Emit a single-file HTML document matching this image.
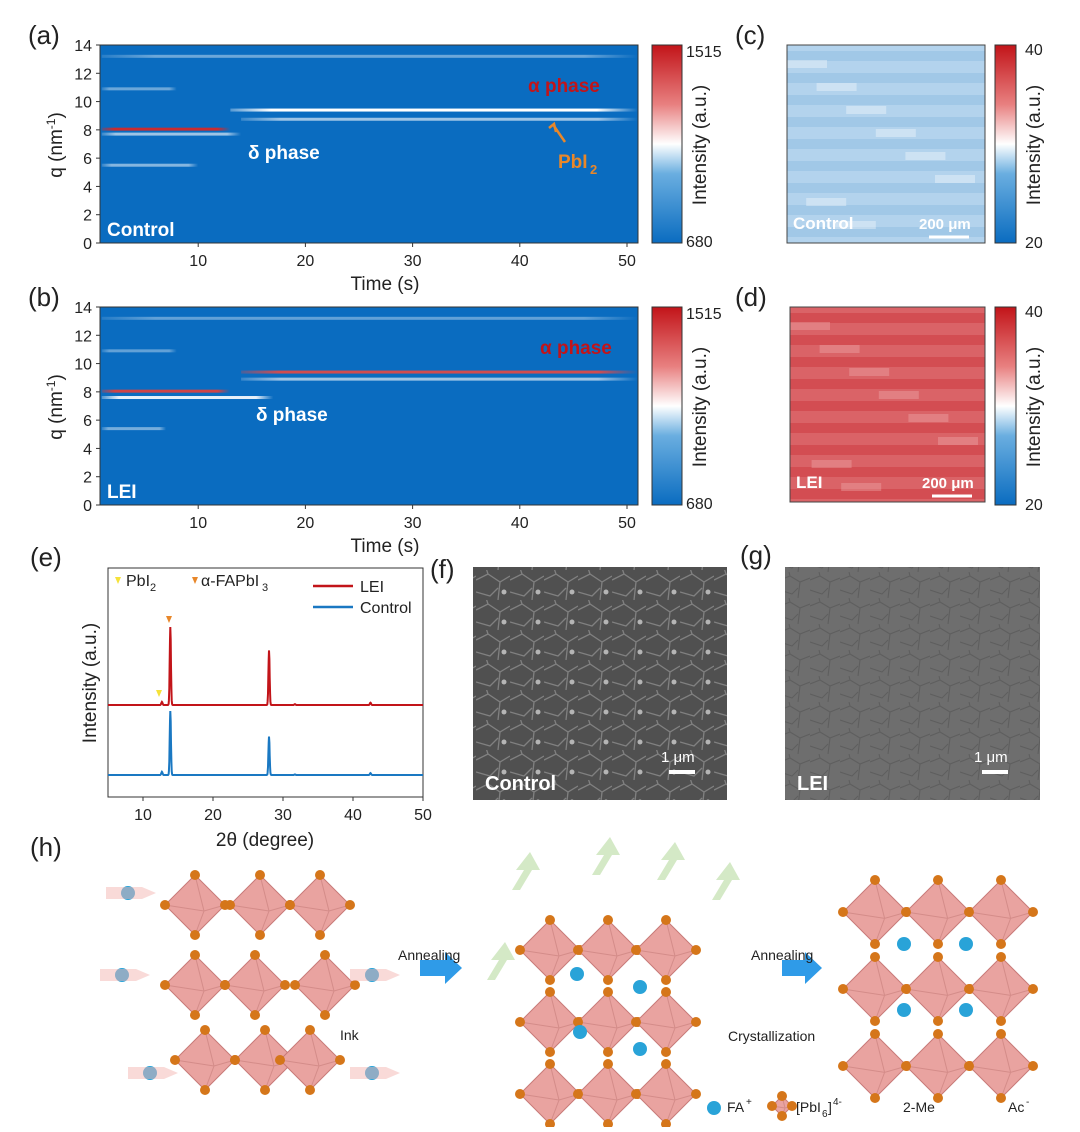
<!DOCTYPE html>
<html><head><meta charset="utf-8">
<style>
body{margin:0;background:#fff;font-family:"Liberation Sans",Arial,sans-serif;}
svg text{font-family:"Liberation Sans",Arial,sans-serif;}
</style></head>
<body>
<svg id="fig" width="1080" height="1127" viewBox="0 0 1080 1127" xmlns="http://www.w3.org/2000/svg">
<defs>
<linearGradient id="cbar" x1="0" y1="1" x2="0" y2="0">
<stop offset="0" stop-color="#0a6cc0"/><stop offset="0.35" stop-color="#6aaee0"/><stop offset="0.5" stop-color="#ffffff"/><stop offset="0.7" stop-color="#e88080"/><stop offset="1" stop-color="#c21419"/></linearGradient>
<pattern id="grainA" width="34" height="30" patternUnits="userSpaceOnUse"><rect width="34" height="30" fill="#505050"/><path d="M0 10 L12 4 L24 12 L34 6 M12 4 L10 -2 M24 12 L22 30 M0 22 L14 26 L22 18" stroke="#808080" stroke-width="1.3" fill="none"/><circle cx="28" cy="22" r="2.5" fill="#b5b5b5"/></pattern>
<pattern id="grainB" width="30" height="26" patternUnits="userSpaceOnUse"><rect width="30" height="26" fill="#6e6e6e"/><path d="M0 8 L10 4 L20 10 L30 6 M10 4 L9 0 M20 10 L18 26 M0 18 L12 22 L18 16" stroke="#5e5e5e" stroke-width="1.1" fill="none"/></pattern>
</defs>
<g id="root"></g>
</svg>
<script>
// ---------- data ----------
const timeTicks=[10,20,30,40,50];
const qTicks=[0,2,4,6,8,10,12,14];
const cbarLabels=["1515","680"];
const bandsA_q=[13.2,9.4,8.75,8.05,7.7,5.5,10.9];
const bandsA_t0=[1,13,14,1,1,1,1];
const bandsA_t1=[51,51,51,13,14,10,8];
const bandsA_v=[0.2,0.5,0.3,0.95,0.3,0.25,0.2];
const bandsB_q=[13.2,9.4,8.9,8.05,7.6,5.4,10.9];
const bandsB_t0=[1,14,14,1,1,1,1];
const bandsB_t1=[51,51,51,13,17,7,8];
const bandsB_v=[0.18,0.88,0.3,0.9,0.45,0.22,0.18];
const xrdAngles=[12.7,13.9,24.4,28.0,31.7,40.2,42.5];
const xrdLEI=[0.04,1.0,0.0,0.7,0.01,0.0,0.03];
const xrdCtrl=[0.05,1.0,0.0,0.6,0.01,0.0,0.03];
const xrdTicks=[10,20,30,40,50];

const NS="http://www.w3.org/2000/svg";
const root=document.getElementById('root');
function el(tag,attrs,parent){const e=document.createElementNS(NS,tag);for(const k in attrs)e.setAttribute(k,attrs[k]);(parent||root).appendChild(e);return e;}
function txt(x,y,s,size,fill,anchor,weight,parent){const t=el('text',{x:x,y:y,'font-size':size,fill:fill||'#222','text-anchor':anchor||'start','font-weight':weight||'normal'},parent);t.textContent=s;return t;}
function col(v){
  const b=[10,108,192],w=[255,255,255],r=[194,20,25];let c;
  if(v<0.5){const f=v/0.5;c=b.map((x,i)=>x+(w[i]-x)*f);}else{const f=(v-0.5)/0.5;c=w.map((x,i)=>x+(r[i]-x)*f);}
  return `rgb(${c.map(Math.round).join(',')})`;}

function heatmap(y0,qs,t0s,t1s,vs,name,label){
  const X0=100,X1=638,H=198;
  const xs=t=>91+(t)*10.72, ys=q=>y0+H-q*(H/14);
  const g=el('g',{});
  el('rect',{x:X0,y:y0,width:X1-X0,height:H,fill:'#0a6cc0'},g);
  const clip=el('clipPath',{id:'c'+name},g);el('rect',{x:X0,y:y0,width:X1-X0,height:H},clip);
  const gg=el('g',{'clip-path':`url(#c${name})`},g);
  for(let i=0;i<qs.length;i++){
    const gid='g'+name+i;
    const lg=el('linearGradient',{id:gid,x1:0,y1:0,x2:1,y2:0},gg);
    el('stop',{offset:0,'stop-color':col(vs[i]),'stop-opacity':0.3},lg);
    el('stop',{offset:0.1,'stop-color':col(vs[i]),'stop-opacity':1},lg);
    el('stop',{offset:0.9,'stop-color':col(vs[i]),'stop-opacity':1},lg);
    el('stop',{offset:1,'stop-color':col(vs[i]),'stop-opacity':0},lg);
    const r=el('rect',{x:xs(t0s[i]),y:ys(qs[i])-1.5,width:xs(t1s[i])-xs(t0s[i]),height:3,fill:`url(#${gid})`},gg);
    
  }
  el('rect',{x:X0,y:y0,width:X1-X0,height:H,fill:'none',stroke:'#333','stroke-width':1},g);
  qTicks.forEach(q=>{el('line',{x1:X0-4,x2:X0,y1:ys(q),y2:ys(q),stroke:'#333'},g);txt(X0-8,ys(q)+6,q,16,'#222','end','normal',g);});
  timeTicks.forEach(t=>{el('line',{x1:xs(t),x2:xs(t),y1:y0+H,y2:y0+H+4,stroke:'#333'},g);txt(xs(t),y0+H+23,t,16,'#222','middle','normal',g);});
  txt(385,y0+H+47,'Time (s)',19,'#222','middle','normal',g);
  const yl=txt(0,0,'',19,'#222','middle','normal',g);yl.setAttribute('transform',`translate(62,${y0+100}) rotate(-90)`);yl.innerHTML='q (nm<tspan dy="-7" font-size="12">-1</tspan><tspan dy="7">)</tspan>';
  txt(107,y0+191,label,19,'#fff','start','bold',g);
  el('rect',{x:652,y:y0,width:30,height:H,fill:'url(#cbar)',stroke:'#333'},g);
  txt(686,y0+12,cbarLabels[0],16,'#222','start','normal',g);txt(686,y0+H+4,cbarLabels[1],16,'#222','start','normal',g);
  const il=txt(0,0,'Intensity (a.u.)',19,'#222','middle','normal',g);il.setAttribute('transform',`translate(706,${y0+100}) rotate(-90)`);
  return {xs,ys};
}
txt(28,44,'(a)',26);txt(28,306,'(b)',26);txt(735,44,'(c)',26);txt(735,306,'(d)',26);
txt(30,566,'(e)',26);txt(430,578,'(f)',26);txt(740,564,'(g)',26);txt(30,856,'(h)',26);
heatmap(45,bandsA_q,bandsA_t0,bandsA_t1,bandsA_v,'heatmap-control','Control');
txt(528,92,'α phase',19,'#c21419','start','bold');txt(248,159,'δ phase',19,'#fff','start','bold');
txt(558,168,'PbI',19,'#e8872a','start','bold');txt(590,174,'2',13,'#e8872a','start','bold');
el('path',{d:'M565 142 L554 126 M549 128 L554 124 L556 132',stroke:'#e8872a','stroke-width':2.5,fill:'none'});
heatmap(307,bandsB_q,bandsB_t0,bandsB_t1,bandsB_v,'heatmap-lei','LEI');
txt(540,354,'α phase',19,'#c21419','start','bold');txt(256,421,'δ phase',19,'#fff','start','bold');

function map(x,y,w,h,base,name,label,dark,light){
  const g=el('g',{});
  el('rect',{x,y,width:w,height:h,fill:base},g);
  for(let i=0;i<9;i++){el('rect',{x:x,y:y+6+i*22,width:w,height:10,fill:dark,opacity:0.3},g);}
  for(let i=0;i<8;i++){el('rect',{x:x+(i*37)%w*0.8,y:y+15+i*23,width:40,height:8,fill:light,opacity:0.35},g);}
  el('rect',{x,y,width:w,height:h,fill:'none',stroke:'#444'},g);
  txt(x+6,y+h-14,label,17,'#fff','start','bold',g);txt(x+132,y+h-14,'200 μm',15,'#fff','start','bold',g);
  el('line',{x1:x+142,x2:x+182,y1:y+h-6,y2:y+h-6,stroke:'#fff','stroke-width':3},g);
  el('rect',{x:995,y:y,width:21,height:198,fill:'url(#cbar)',stroke:'#333'},g);
  txt(1025,y+10,'40',16,'#222','start','normal',g);txt(1025,y+203,'20',16,'#222','start','normal',g);
  const il=txt(0,0,'Intensity (a.u.)',19,'#222','middle','normal',g);il.setAttribute('transform',`translate(1040,${y+100}) rotate(-90)`);
}
map(787,45,198,198,'#b3d3ed','map-control','Control','#78b0dc','#ffffff');
map(790,307,195,195,'#da6367','map-lei','LEI','#c41c22','#f2b5b5');

const xx=a=>73+a*7, g_e=el('g',{});
el('rect',{x:108,y:568,width:315,height:229,fill:'none',stroke:'#333'},g_e);
xrdTicks.forEach(t=>{el('line',{x1:xx(t),x2:xx(t),y1:797,y2:801,stroke:'#333'},g_e);txt(xx(t),820,t,16,'#222','middle','normal',g_e);});
txt(265,846,'2θ (degree)',19,'#222','middle','normal',g_e);
const yl=txt(0,0,'Intensity (a.u.)',19,'#222','middle','normal',g_e);yl.setAttribute('transform','translate(96,683) rotate(-90)');
function trace(vals,base,amp,color,name){let d='';for(let a=5;a<=50;a+=0.05){let v=0;for(let i=0;i<xrdAngles.length;i++){v+=vals[i]*Math.exp(-Math.pow((a-xrdAngles[i])/0.12,2));}d+=(d?'L':'M')+xx(a).toFixed(1)+' '+(base-v*amp).toFixed(1);}
 const p=el('path',{d,stroke:color,'stroke-width':2,fill:'none'},g_e);}
trace(xrdLEI,705,78,'#c21419','xrd-lei');trace(xrdCtrl,775,64,'#1a78c2','xrd-control');
el('path',{d:'M156 690 L162 690 L159 697Z',fill:'#f5e23a'});el('path',{d:'M166 616 L172 616 L169 623Z',fill:'#e8872a'});
el('path',{d:'M115 577 L121 577 L118 584Z',fill:'#f5e23a'});txt(126,586,'PbI',16);txt(150,591,'2',11);
el('path',{d:'M192 577 L198 577 L195 584Z',fill:'#e8872a'});txt(201,586,'α-FAPbI',16);txt(262,591,'3',11);
el('line',{x1:313,x2:353,y1:586,y2:586,stroke:'#c21419','stroke-width':2.5});txt(360,592,'LEI',16);
el('line',{x1:313,x2:353,y1:607,y2:607,stroke:'#1a78c2','stroke-width':2.5});txt(360,613,'Control',16);

function sem(x,y,w,h,fill,label,name){const g=el('g',{});
 el('rect',{x,y,width:w,height:h,fill},g);txt(x+12,y+h-10,label,20,'#fff','start','bold',g);
 txt(x+w-66,y+h-38,'1 μm',15,'#fff','start','normal',g);el('line',{x1:x+w-58,x2:x+w-32,y1:y+h-28,y2:y+h-28,stroke:'#fff','stroke-width':4},g);}
sem(473,567,254,233,'url(#grainA)','Control','sem-control');sem(785,567,255,233,'url(#grainB)','LEI','sem-lei');

const gh=el('g',{});
function oct(cx,cy,s){el('path',{d:`M${cx} ${cy-s} L${cx+s} ${cy} L${cx} ${cy+s} L${cx-s} ${cy}Z`,fill:'#e9a3a0',stroke:'#c87a78'},gh);
 el('path',{d:`M${cx} ${cy-s} L${cx+s*0.3} ${cy+s*0.2} L${cx} ${cy+s} M${cx-s} ${cy} L${cx+s*0.3} ${cy+s*0.2} L${cx+s} ${cy}`,fill:'none',stroke:'#d48c89'},gh);
 [[0,-s],[s,0],[0,s],[-s,0]].forEach(([dx,dy])=>el('circle',{cx:cx+dx,cy:cy+dy,r:5,fill:'#d5761a'},gh));}
[[195,905],[260,905],[320,905],[195,985],[255,985],[325,985],[205,1060],[265,1060],[310,1060]].forEach(p=>oct(p[0],p[1],30));
for(let r=0;r<3;r++)for(let c=0;c<3;c++)oct(550+c*58,950+r*72,30);
for(let r=0;r<3;r++)for(let c=0;c<3;c++)oct(875+c*63,912+r*77,32);
[[128,893],[122,975],[372,975],[150,1073],[372,1073],[577,974],[640,987],[580,1032],[640,1049],[904,944],[966,944],[904,1010],[966,1010],[714,1108]].forEach(p=>el('circle',{cx:p[0],cy:p[1],r:7,fill:'#29a3d8'},gh));
[[128,893],[122,975],[372,975],[150,1073],[372,1073]].forEach(p=>el('path',{d:`M${p[0]-22} ${p[1]-6} L${p[0]+14} ${p[1]-6} L${p[0]+28} ${p[1]} L${p[0]+14} ${p[1]+6} L${p[0]-22} ${p[1]+6}Z`,fill:'#f4b5b2',opacity:0.5},gh));
el('path',{d:'M420 960 L445 960 L445 952 L462 968 L445 984 L445 976 L420 976Z',fill:'#2f9be8'},gh);
el('path',{d:'M782 960 L805 960 L805 952 L822 968 L805 984 L805 976 L782 976Z',fill:'#2f9be8'},gh);
txt(398,960,'Annealing',14);txt(751,960,'Annealing',14);txt(728,1041,'Crystallization',14);txt(340,1040,'Ink',14);
txt(727,1112,'FA',14);txt(746,1105,'+',10);txt(796,1112,'[PbI',14);txt(822,1117,'6',10);txt(828,1112,']',14);txt(833,1105,'4-',10);
txt(903,1112,'2-Me',14);txt(1008,1112,'Ac',14);txt(1026,1105,'-',10);
oct(782,1106,10);
[[520,870],[600,855],[665,860],[720,880],[495,960]].forEach(p=>el('path',{d:`M${p[0]-8} ${p[1]+20} L${p[0]+4} ${p[1]} L${p[0]-4} ${p[1]} L${p[0]+10} ${p[1]-18} L${p[0]+20} ${p[1]} L${p[0]+12} ${p[1]} L${p[0]} ${p[1]+20}Z`,fill:'#c9e3b8',opacity:0.8},gh));
</script>
</body></html>
